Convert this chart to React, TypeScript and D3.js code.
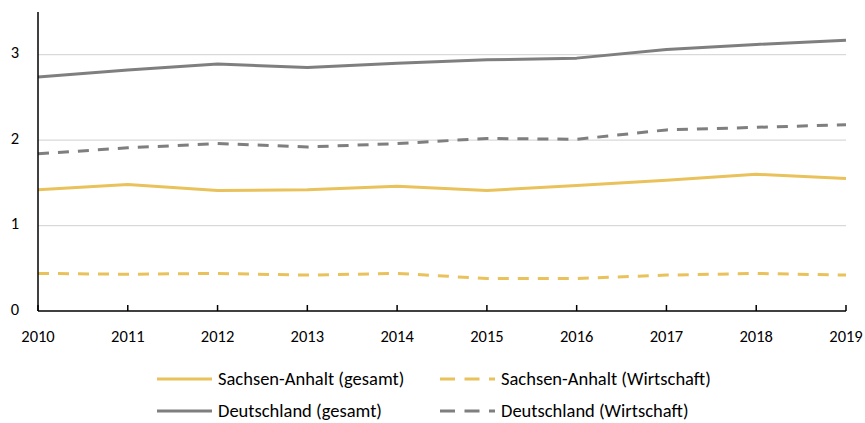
import React from "react";
import * as d3 from "d3";

const years = [2010, 2011, 2012, 2013, 2014, 2015, 2016, 2017, 2018, 2019];
const deGesamt = [2.74, 2.82, 2.89, 2.85, 2.9, 2.94, 2.96, 3.06, 3.12, 3.17];
const deWirtschaft = [1.84, 1.91, 1.96, 1.92, 1.96, 2.02, 2.01, 2.12, 2.15, 2.18];
const saGesamt = [1.42, 1.48, 1.41, 1.42, 1.46, 1.41, 1.47, 1.53, 1.6, 1.55];
const saWirtschaft = [0.44, 0.43, 0.44, 0.42, 0.44, 0.38, 0.38, 0.42, 0.44, 0.42];
const yTicks = [0, 1, 2, 3];

const GOLD = "#e9c25c";
const GRAY = "#7f7f7f";
const FONT = "Carlito, Calibri, Lato, 'Open Sans', sans-serif";

const seriesList = [
  { name: "Sachsen-Anhalt (gesamt)", values: saGesamt, color: GOLD, dashed: false },
  { name: "Sachsen-Anhalt (Wirtschaft)", values: saWirtschaft, color: GOLD, dashed: true },
  { name: "Deutschland (gesamt)", values: deGesamt, color: GRAY, dashed: false },
  { name: "Deutschland (Wirtschaft)", values: deWirtschaft, color: GRAY, dashed: true },
];

export default function App() {
  const W = 865, H = 423;
  const left = 38, right = 846, top = 12, bottom = 311;
  const x = d3.scaleLinear().domain([years[0], years[years.length - 1]]).range([left, right]);
  const y = d3.scaleLinear().domain([0, 3.5]).range([bottom, top]);
  const line = d3
    .line<number>()
    .x((_, i) => x(years[i]))
    .y((d) => y(d));

  const legendPos = [
    { lx: 157, ly: 379 },
    { lx: 440, ly: 379 },
    { lx: 157, ly: 411 },
    { lx: 440, ly: 411 },
  ];

  return (
    <svg width={W} height={H} style={{ position: "absolute", left: 0, top: 0, background: "#fff" }}>
      {yTicks.filter((t) => t > 0).map((t) => (
        <line key={t} x1={left} x2={right} y1={y(t)} y2={y(t)} stroke="#d9d9d9" strokeWidth={1.3} />
      ))}
      {seriesList.map((s) => (
        <path
          key={s.name}
          d={line(s.values) || ""}
          fill="none"
          stroke={s.color}
          strokeWidth={3}
          strokeDasharray={s.dashed ? "11,9" : undefined}
          strokeLinejoin="round"
        />
      ))}
      <line x1={left} x2={left} y1={top} y2={bottom} stroke="#000" strokeWidth={1.5} />
      <line x1={left} x2={right} y1={bottom} y2={bottom} stroke="#000" strokeWidth={1.5} />
      {years.map((yr) => (
        <line key={yr} x1={x(yr)} x2={x(yr)} y1={bottom} y2={bottom - 6} stroke="#000" strokeWidth={1.5} />
      ))}
      {yTicks.map((t) => (
        <text key={t} x={19} y={y(t) - 2} dy="0.35em" textAnchor="end" fontFamily={FONT} fontSize={16.5} fill="#000">
          {t}
        </text>
      ))}
      {years.map((yr) => (
        <text key={yr} x={x(yr)} y={342} textAnchor="middle" fontFamily={FONT} fontSize={16.5} fill="#000">
          {yr}
        </text>
      ))}
      {seriesList.map((s, i) => (
        <g key={s.name}>
          <line
            x1={legendPos[i].lx}
            x2={legendPos[i].lx + 55}
            y1={legendPos[i].ly}
            y2={legendPos[i].ly}
            stroke={s.color}
            strokeWidth={3}
            strokeDasharray={s.dashed ? "15,9.5" : undefined}
          />
          <text x={legendPos[i].lx + 61} y={legendPos[i].ly} dy="0.35em" fontFamily={FONT} fontSize={18.5} fill="#000">
            {s.name}
          </text>
        </g>
      ))}
    </svg>
  );
}
